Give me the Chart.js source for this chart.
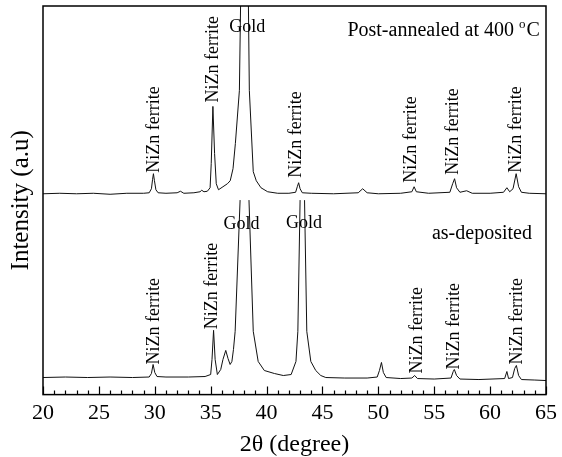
<!DOCTYPE html>
<html>
<head>
<meta charset="utf-8">
<script src="https://cdn.jsdelivr.net/npm/chart.js@4/dist/chart.umd.min.js"></script>
<style>
  html, body { margin: 0; padding: 0; background: #fff; }
  #wrap { width: 562px; height: 457px; }
</style>
</head>
<body>
<div id="wrap"><canvas id="xrd" width="562" height="457"></canvas></div>
<script>
// post-annealed at 400 C (upper trace, offset already included)
const annealedX = [20, 21.5, 23, 24.5, 26, 27.5, 29, 29.5, 29.7, 29.8, 29.88, 29.97, 30.1, 30.3, 31, 32, 32.3, 32.6, 33.5,
  34.05, 34.2, 34.4, 34.7, 34.95, 35.05, 35.2, 35.35, 35.5, 35.7, 36.1, 36.5, 36.75, 37.0, 37.21, 37.57, 38.07, 38.46,
  38.81, 39.08, 39.5, 40.1, 41, 42, 42.6, 42.75, 42.87, 43.0, 43.2, 44, 46, 48.2, 48.6, 49, 50, 52, 53.0, 53.2, 53.4,
  54.5, 56.4, 56.65, 56.82, 57.0, 57.3, 57.9, 58.4, 60, 61.2, 61.5, 61.75, 62.05, 62.33, 62.55, 62.8, 63.5, 65];
const annealedY = [200, 200.5, 200, 200.5, 199.5, 200.5, 200.5, 201, 205, 214, 220, 213, 204, 201, 200.5, 201, 202.5, 200.5, 201,
  202, 203.5, 202, 202.5, 206, 230, 287, 240, 210, 204, 207, 210, 213, 225, 250, 303, 700, 303,
  222, 213, 206, 202, 200.5, 200.5, 201.5, 207, 211, 205, 201, 200.5, 200, 201, 205, 201, 200, 200.5, 202, 207, 202,
  200.5, 201.5, 210, 215, 206, 201.5, 203, 200.5, 200.5, 201.5, 206, 202, 205, 220, 207, 201.5, 200.5, 200];

// as-deposited (lower trace)
const depositedX = [20, 22, 24, 26, 28, 29.5, 29.7, 29.85, 30.0, 30.2, 31, 33, 34.5, 35.0, 35.12, 35.26, 35.4, 35.6, 35.9,
  36.1, 36.35, 36.55, 36.74, 36.9, 37.04, 37.19, 37.63, 38.03, 38.43, 38.81, 39.25, 39.8, 40.7, 41.5, 42.2, 42.63, 42.8,
  43.0, 43.2, 43.4, 43.6, 43.96, 44.4, 44.85, 45.3, 47, 49, 49.9, 50.1, 50.28, 50.45, 50.7, 52, 53.0, 53.25, 53.5, 55,
  56.5, 56.7, 56.8, 57.0, 57.3, 59, 61.3, 61.5, 61.65, 62.0, 62.2, 62.35, 62.55, 62.8, 64, 65];
const depositedY = [17, 17.5, 17, 17.5, 17, 17.5, 21, 30, 22, 18, 17.5, 17.5, 18, 20, 35, 64, 35, 20, 25,
  35, 44, 36, 30, 33, 45, 63, 193, 600, 193, 63, 33, 24, 21, 19, 20, 33, 63,
  193, 600, 193, 63, 33, 24, 19, 17, 16.5, 16.5, 17.5, 24, 32, 22, 17, 16, 16.5, 19, 16, 15.5,
  16.5, 23, 25, 19, 15.5, 15, 16, 23, 16, 17, 26, 29, 19, 15, 14.5, 14];

const xTicks = [20, 25, 30, 35, 40, 45, 50, 55, 60, 65];

// peak labels: [2theta, intensity where the text starts]
const ferriteTop = [[29.94, 221], [35.24, 291], [42.69, 216], [52.98, 211], [56.71, 219], [62.3, 221]];
const ferriteBottom = [[29.94, 30], [35.17, 65], [53.45, 21], [56.82, 25], [62.41, 30]];
const goldLabels = [[38.28, 366], [37.75, 170], [43.34, 171]];

const serif = '"Liberation Serif", "Times New Roman", serif';

const toPoints = (xs, ys) => xs.map((x, i) => ({ x: x, y: ys[i] }));

const decorations = {
  id: 'decorations',
  afterDatasetsDraw(chart) {
    const { ctx, chartArea: a, scales: { x, y } } = chart;
    ctx.save();

    // frame + inward ticks on the bottom axis
    ctx.strokeStyle = '#000';
    ctx.lineWidth = 1.5;
    ctx.strokeRect(a.left, a.top, a.right - a.left, a.bottom - a.top);
    ctx.lineWidth = 1.2;
    ctx.beginPath();
    for (let v = 20; v <= 65; v++) {
      const px = Math.round(x.getPixelForValue(v)) + 0.5;
      const len = v % 5 === 0 ? 8 : 4;
      ctx.moveTo(px, a.bottom);
      ctx.lineTo(px, a.bottom - len);
    }
    ctx.stroke();

    ctx.fillStyle = '#000';
    ctx.font = '18px ' + serif;
    ctx.textAlign = 'left';
    ctx.textBaseline = 'middle';
    [...ferriteTop, ...ferriteBottom].forEach(([tx, ty]) => {
      ctx.save();
      ctx.translate(x.getPixelForValue(tx), y.getPixelForValue(ty));
      ctx.rotate(-Math.PI / 2);
      ctx.fillText('NiZn ferrite', 0, 0);
      ctx.restore();
    });

    ctx.textAlign = 'center';
    goldLabels.forEach(([tx, ty]) => {
      ctx.fillText('Gold', x.getPixelForValue(tx), y.getPixelForValue(ty));
    });

    // sample names
    ctx.font = '20px ' + serif;
    ctx.textAlign = 'right';
    ctx.fillText('as-deposited', x.getPixelForValue(63.74), y.getPixelForValue(160));

    const right = x.getPixelForValue(64.45);
    const base = y.getPixelForValue(362);
    const wC = ctx.measureText('C').width;
    ctx.fillText('C', right, base);
    ctx.font = '13px ' + serif;
    const wO = ctx.measureText('o').width;
    ctx.fillText('o', right - wC - 1, base - 7);
    ctx.font = '20px ' + serif;
    ctx.fillText('Post-annealed at 400 ', right - wC - wO - 1, base);

    ctx.restore();
  }
};

new Chart(document.getElementById('xrd'), {
  type: 'line',
  data: {
    datasets: [
      {
        label: 'Post-annealed at 400 °C',
        data: toPoints(annealedX, annealedY),
        borderColor: '#111',
        borderWidth: 1,
        pointRadius: 0,
        tension: 0
      },
      {
        label: 'as-deposited',
        data: toPoints(depositedX, depositedY),
        borderColor: '#111',
        borderWidth: 1,
        pointRadius: 0,
        tension: 0,
        clip: { left: 0, top: -194, right: 0, bottom: 0 }
      }
    ]
  },
  options: {
    responsive: false,
    animation: false,
    events: [],
    layout: { padding: { left: 3, right: 12, top: 6, bottom: 0 } },
    plugins: {
      legend: { display: false },
      tooltip: { enabled: false }
    },
    scales: {
      x: {
        type: 'linear',
        min: 20,
        max: 65,
        afterBuildTicks: (scale) => { scale.ticks = xTicks.map(v => ({ value: v })); },
        ticks: {
          color: '#000',
          padding: 5,
          font: { family: serif, size: 22 }
        },
        grid: { display: false, drawTicks: false },
        border: { display: false },
        title: {
          display: true,
          text: '2θ (degree)',
          color: '#000',
          font: { family: serif, size: 24, lineHeight: 1 },
          padding: { top: 2, bottom: 0 }
        }
      },
      y: {
        min: 0,
        max: 387,
        ticks: { display: false },
        grid: { display: false, drawTicks: false },
        border: { display: false },
        title: {
          display: true,
          text: 'Intensity (a.u)',
          color: '#000',
          font: { family: serif, size: 25, lineHeight: 1.2 },
          padding: { top: 3, bottom: 7 }
        }
      }
    }
  },
  plugins: [decorations]
});
</script>
</body>
</html>
